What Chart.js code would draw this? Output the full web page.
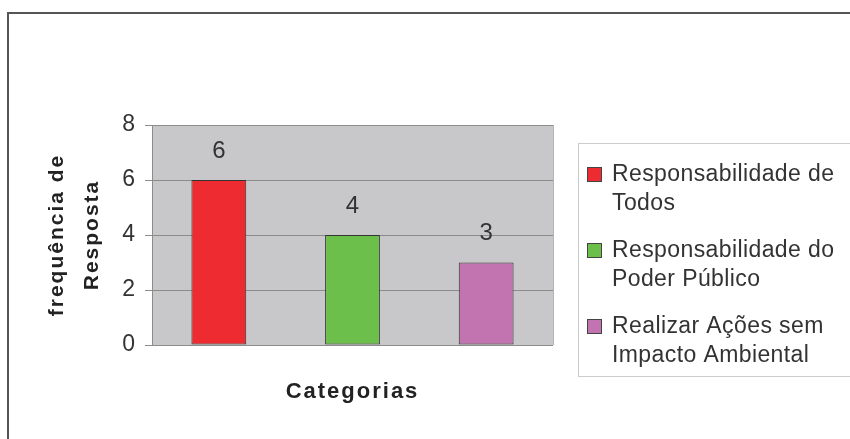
<!DOCTYPE html>
<html>
<head>
<meta charset="utf-8">
<script src="https://cdn.jsdelivr.net/npm/chart.js@4.4.1/dist/chart.umd.min.js"></script>
<style>
    html, body { margin: 0; padding: 0; background: #ffffff; }
    #wrap { width: 850px; height: 439px; }
</style>
</head>
<body>
<div id="wrap"><canvas id="grafico" width="850" height="439"></canvas></div>
<script>
const categorias = [
    ["Responsabilidade de", "Todos"],
    ["Responsabilidade do", "Poder Público"],
    ["Realizar Ações sem", "Impacto Ambiental"],
];
const frequencias = [6, 4, 3];
const cores = ["#ee2b31", "#6dbf4b", "#c274b0"];
const ticksY = [0, 2, 4, 6, 8];

const fonte = "'Liberation Sans', Arial, sans-serif";

const fundoPlugin = {
    id: "fundo",
    beforeDraw(chart) {
        const { ctx, chartArea } = chart;
        ctx.save();
        ctx.fillStyle = "#ffffff";
        ctx.fillRect(0, 0, chart.width, chart.height);
        // moldura externa (so topo e esquerda aparecem)
        ctx.strokeStyle = "#555555";
        ctx.lineWidth = 2;
        ctx.beginPath();
        ctx.moveTo(8, chart.height);
        ctx.lineTo(8, 13);
        ctx.lineTo(chart.width, 13);
        ctx.stroke();
        ctx.fillStyle = "#c8c8ca";
        ctx.fillRect(chartArea.left, chartArea.top, chartArea.right - chartArea.left, chartArea.bottom - chartArea.top);
        ctx.strokeStyle = "#b4b4b4";
        ctx.lineWidth = 1;
        ctx.beginPath();
        ctx.moveTo(chartArea.right + 0.5, chartArea.top);
        ctx.lineTo(chartArea.right + 0.5, chartArea.bottom);
        ctx.stroke();
        ctx.restore();
        // espacamento das letras dos titulos dos eixos
        ctx.letterSpacing = "2px";
    },
    beforeDatasetsDraw(chart) {
        chart.ctx.letterSpacing = "0px";
    },
};

const rotulosPlugin = {
    id: "rotulos",
    afterDatasetsDraw(chart) {
        const { ctx } = chart;
        const meta = chart.getDatasetMeta(0);
        ctx.save();
        ctx.font = "24px " + fonte;
        ctx.fillStyle = "#333333";
        ctx.textAlign = "center";
        ctx.textBaseline = "middle";
        meta.data.forEach((bar, i) => {
            ctx.fillText(String(frequencias[i]), bar.x, bar.y - 29);
        });
        ctx.restore();
    },
};

const legendaPlugin = {
    id: "legenda",
    afterDraw(chart) {
        const { ctx } = chart;
        ctx.save();
        ctx.strokeStyle = "#cccccc";
        ctx.lineWidth = 1;
        ctx.strokeRect(578.5, 143.5, 280, 233);
        ctx.font = "23px " + fonte;
        ctx.letterSpacing = "0.4px";
        ctx.textBaseline = "middle";
        ctx.textAlign = "left";
        categorias.forEach((linhas, i) => {
            const y0 = 175 + i * 76;
            ctx.fillStyle = cores[i];
            ctx.fillRect(587, y0 - 8, 15, 15);
            ctx.strokeStyle = "#444444";
            ctx.strokeRect(587.5, y0 - 7.5, 14, 14);
            ctx.fillStyle = "#333333";
            linhas.forEach((t, j) => {
                ctx.fillText(t, 612, y0 + j * 29);
            });
        });
        ctx.restore();
    },
};

new Chart(document.getElementById("grafico"), {
    type: "bar",
    data: {
        labels: categorias,
        datasets: [
            {
                data: frequencias,
                backgroundColor: cores,
                borderColor: "#333333",
                borderWidth: 1,
                borderSkipped: false,
                categoryPercentage: 1,
                barPercentage: 0.41,
            },
        ],
    },
    options: {
        responsive: false,
        animation: false,
        layout: {
            padding: { top: 125, right: 297, bottom: 0, left: 0 },
        },
        plugins: {
            legend: { display: false },
            tooltip: { enabled: false },
        },
        scales: {
            x: {
                ticks: { display: false },
                grid: { display: false },
                border: { display: false },
                title: {
                    display: true,
                    text: "Categorias",
                    color: "#222222",
                    font: { family: fonte, size: 22, weight: "bold", lineHeight: 1.2 },
                    padding: { top: 0, bottom: 34 },
                },
                afterFit(scale) {
                    scale.height = 94;
                },
            },
            y: {
                min: 0,
                max: 8,
                afterBuildTicks(scale) {
                    scale.ticks = ticksY.map((v) => ({ value: v }));
                },
                ticks: {
                    color: "#333333",
                    padding: 8,
                    font: { family: fonte, size: 23 },
                },
                grid: {
                    color: "#8c8c8c",
                    lineWidth: 1,
                    tickLength: 7,
                },
                border: { display: true, color: "#8c8c8c" },
                title: {
                    display: true,
                    text: ["frequência de", "Resposta"],
                    color: "#222222",
                    font: { family: fonte, size: 21, weight: "bold", lineHeight: 1.7 },
                    padding: { top: 39, bottom: 0 },
                },
                afterFit(scale) {
                    scale.width = 152;
                },
            },
        },
    },
    plugins: [fundoPlugin, rotulosPlugin, legendaPlugin],
});
</script>
</body>
</html>
